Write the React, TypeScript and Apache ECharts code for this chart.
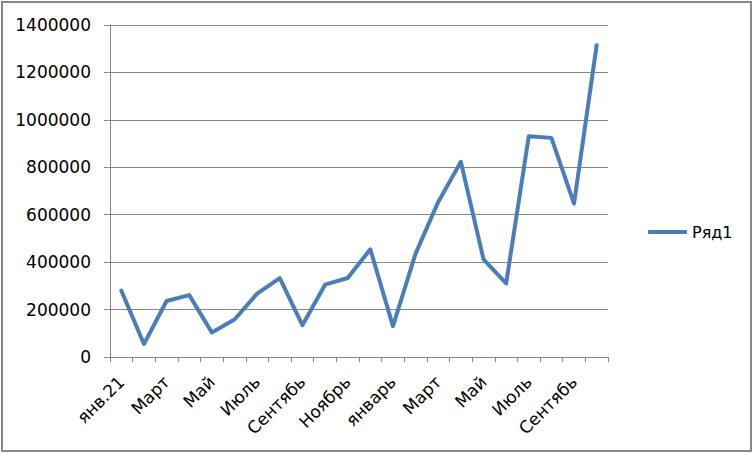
import React, { useEffect, useRef } from "react";
import * as echarts from "echarts";

const categories = [
  "янв.21", "Февраль", "Март", "Апрель", "Май", "Июнь", "Июль", "Август",
  "Сентябь", "Октябрь", "Ноябрь", "Декабрь", "январь", "Февраль", "Март",
  "Апрель", "Май", "Июнь", "Июль", "Август", "Сентябь", "Октябрь",
];
const seriesName = "Ряд1";
const values = [
  280000, 55000, 236000, 261000, 103000, 158000, 267000, 333000, 134000,
  305000, 333000, 454000, 130000, 436000, 654000, 823000, 412000, 310000,
  931000, 924000, 647000, 1315000,
];
const yMin = 0;
const yMax = 1400000;
const yStep = 200000;

const FONT = "DejaVu Sans";

export default function App() {
  const ref = useRef<HTMLDivElement>(null);
  useEffect(() => {
    const chart = echarts.init(ref.current!, null, { renderer: "svg" });
    chart.setOption({
      animation: false,
      backgroundColor: "#ffffff",
      graphic: [
        {
          type: "rect",
          shape: { x: 2, y: 2, width: 749, height: 449 },
          style: { fill: "none", stroke: "#888888", lineWidth: 2 },
          silent: true,
        },
      ],
      legend: {
        data: [seriesName],
        left: 643,
        top: 219,
        itemWidth: 39,
        itemHeight: 4,
        itemGap: 4,
        icon: "roundRect",
        textStyle: { fontFamily: FONT, fontSize: 16, color: "#000" },
      },
      grid: { left: 110, right: 146, top: 25, bottom: 97 },
      xAxis: {
        type: "category",
        data: categories,
        boundaryGap: true,
        axisLine: { show: true, lineStyle: { color: "#868686", width: 1 } },
        axisTick: { show: true, interval: 0, length: 5, lineStyle: { color: "#868686" } },
        axisLabel: {
          interval: 1,
          rotate: 45,
          margin: 22,
          fontFamily: FONT,
          fontSize: 17,
          color: "#000",
        },
        splitLine: { show: false },
      },
      yAxis: {
        type: "value",
        min: yMin,
        max: yMax,
        interval: yStep,
        axisLine: { show: true, lineStyle: { color: "#868686", width: 1 } },
        axisTick: { show: true, length: 6, lineStyle: { color: "#868686" } },
        axisLabel: {
          margin: 19,
          fontFamily: FONT,
          fontSize: 17,
          color: "#000",
          formatter: (v: number) => String(v),
        },
        splitLine: { show: true, lineStyle: { color: "#868686", width: 1 } },
      },
      series: [
        {
          name: seriesName,
          type: "line",
          data: values,
          showSymbol: false,
          symbol: "none",
          lineStyle: { color: "#4A7EBB", width: 4, cap: "round", join: "round" },
          itemStyle: { color: "#4A7EBB" },
        },
      ],
    });
    return () => chart.dispose();
  }, []);
  return (
    <div
      ref={ref}
      style={{ position: "fixed", left: 0, top: 0, width: 754, height: 454 }}
    />
  );
}
